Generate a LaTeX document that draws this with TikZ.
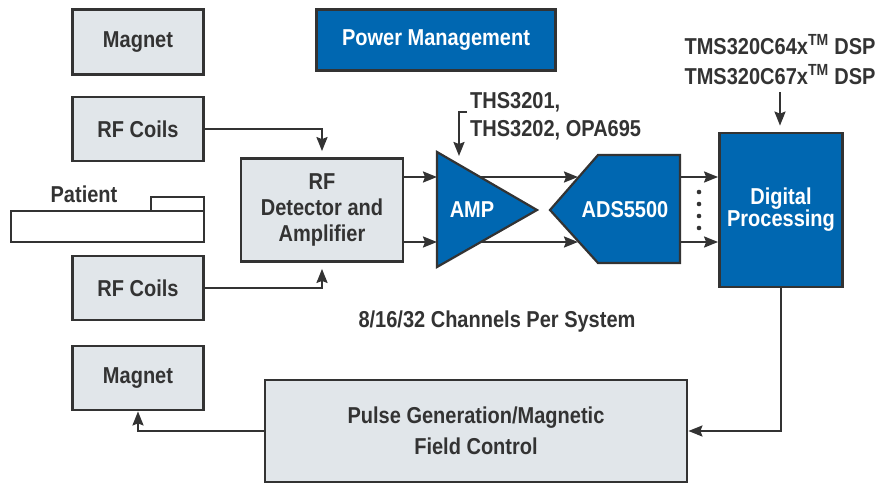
\documentclass[tikz,border=0pt]{standalone}
\usepackage{fontspec}
\setmainfont{Liberation Sans}[FakeStretch=0.87]
\usepackage{tikz}
\usetikzlibrary{arrows.meta, positioning, calc}
\definecolor{tiblue}{HTML}{0067B1}
\definecolor{boxgray}{HTML}{E1E6EA}
\definecolor{inkgray}{HTML}{333333}

\begin{document}
\begin{tikzpicture}[x=1pt, y=-1pt,
  font=\fontsize{23}{26}\selectfont\bfseries,
  graybox/.style={draw=inkgray, line width=2.8pt, fill=boxgray, text=inkgray, align=center, inner sep=0pt},
  bluebox/.style={draw=inkgray, line width=2.8pt, fill=tiblue, text=white, align=center, inner sep=0pt},
  label/.style={text=inkgray, inner sep=0pt},
  arr/.style={draw=inkgray, line width=2.2pt, -{Stealth[length=14pt, width=11pt, inset=2pt]}}]

  \useasboundingbox (0,0) rectangle (878,485);

  \node[graybox, minimum width=131, minimum height=65] (magtop) at (138,42) {Magnet};
  \node[bluebox, minimum width=239, minimum height=61] (power) at (436,40) {Power Management};
  \node[graybox, minimum width=131, minimum height=64] (coiltop) at (138,129) {RF Coils};
  \node[graybox, minimum width=162, minimum height=103] (rfdet) at (322,210) {RF\\Detector and\\Amplifier};
  \node[graybox, minimum width=131, minimum height=64] (coilbot) at (138,288) {RF Coils};
  \node[graybox, minimum width=131, minimum height=64] (magbot) at (138,378) {Magnet};
  \node[graybox, minimum width=422, minimum height=102] (pulse) at (476,431) {Pulse Generation/Magnetic\\[5pt]Field Control};
  \node[bluebox, minimum width=123, minimum height=154, font=\fontsize{23}{22}\selectfont\bfseries] (dsp) at (781,210) {Digital\\Processing};

  \node[label] (patient) at (84,194) {Patient};
  \draw[inkgray, line width=2.2pt] (11,211) rectangle (204,242);
  \draw[inkgray, line width=2.2pt] (151,197) rectangle (204,211);

  \filldraw[fill=tiblue, draw=inkgray, line width=2.2pt] (437,152) -- (537,210) -- (437,267) -- cycle;
  \node[text=white, inner sep=0pt] (amp) at (472,210) {AMP};
  \coordinate (ampin) at (437,210);
  \filldraw[fill=tiblue, draw=inkgray, line width=2.2pt] (550,210) -- (598,155) -- (680,155) -- (680,263) -- (598,263) -- cycle;
  \node[text=white, inner sep=0pt] (ads) at (625,210) {ADS5500};
  \coordinate (adsin) at (578,210);
  \coordinate (adsout) at (680,210);

  \node[label, anchor=west, align=left, font=\fontsize{23}{28}\selectfont\bfseries] (ths) at (470,116) {THS3201,\\THS3202, OPA695};
  \node[label, align=center, font=\fontsize{23}{30}\selectfont\bfseries] (tms) at (780,60) {TMS320C64x\textsuperscript{TM} DSP\\TMS320C67x\textsuperscript{TM} DSP};
  \node[label] (chan) at (497,322) {8/16/32 Channels Per System};

  \foreach \y in {177,242}{
    \draw[arr] (rfdet.east |- 0,\y) -- (ampin |- 0,\y);
    \draw[arr] (480,\y) -- (adsin |- 0,\y);
    \draw[arr] (adsout |- 0,\y) -- (dsp.west |- 0,\y);
  }
  \foreach \y in {192,204,216,228}
    \fill[inkgray] (699,\y) circle (2.3);

  \draw[arr, shorten >=6pt] (coiltop.east) -| (rfdet.north);
  \draw[arr, shorten >=6pt] (coilbot.east) -| (rfdet.south);
  \draw[arr] (467,112) -- (459,112) -- (459,156);
  \draw[arr, shorten <=7pt, shorten >=6pt] (tms.south) -- (tms.south |- dsp.north);
  \draw[arr] (dsp.south) |- (pulse.east);
  \draw[arr] (pulse.west) -| (magbot.south);
\end{tikzpicture}
\end{document}
